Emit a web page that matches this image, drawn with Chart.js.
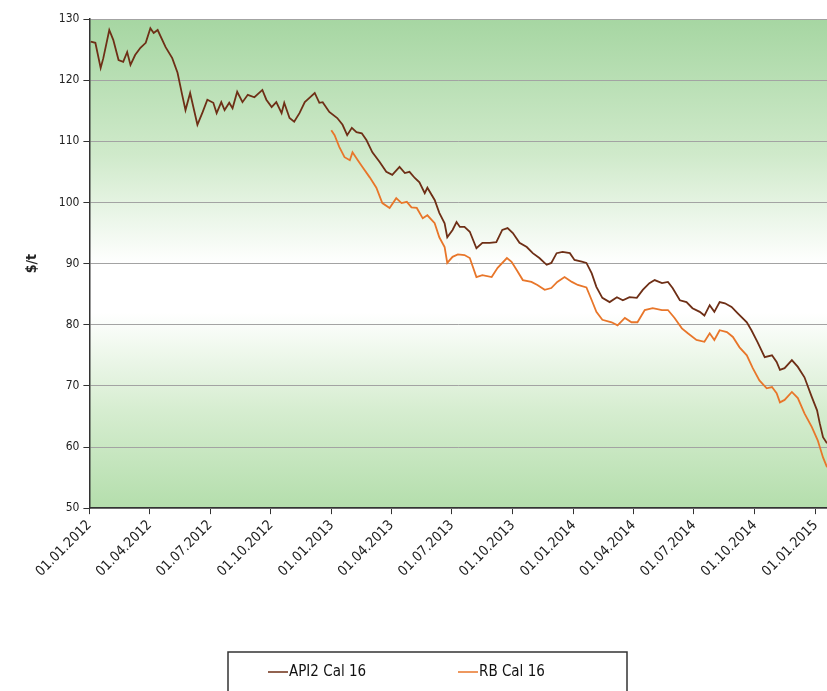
<!DOCTYPE html>
<html>
<head>
<meta charset="utf-8">
<script src="https://cdn.jsdelivr.net/npm/chart.js@4"></script>
<style>
  body { margin: 0; background: #fff; }
  #wrap { position: relative; width: 827px; height: 691px; }
</style>
</head>
<body>
<div id="wrap"><canvas id="coalChart"></canvas></div>
<script>
// days counted from 01.01.2012
const tickDays = [0, 91, 182, 274, 366, 456, 547, 639, 731, 821, 912, 1004, 1096];
const tickLabels = ['01.01.2012', '01.04.2012', '01.07.2012', '01.10.2012', '01.01.2013', '01.04.2013',
  '01.07.2013', '01.10.2013', '01.01.2014', '01.04.2014', '01.07.2014', '01.10.2014', '01.01.2015'];
const lastDay = 1113;

const api2Days = [2, 9, 17, 21, 30, 36, 44, 51, 57, 62, 69, 77, 85, 92, 97, 103, 115, 125, 133, 140,
  145, 152, 163, 171, 178, 187, 192, 199, 204, 211, 216, 223, 231, 239, 249, 261, 267, 275, 282, 290,
  294, 302, 309, 317, 325, 332, 340, 347, 352, 362, 374, 382, 389, 396, 403, 411, 418, 427, 438, 448,
  457, 468, 476, 483, 491, 498, 506, 510, 521, 528, 536, 540, 548, 554, 559, 566, 574, 584, 593, 604,
  614, 623, 631, 639, 649, 660, 669, 679, 690, 697, 705, 714, 725, 732, 743, 750, 758, 765, 774, 785,
  796, 805, 815, 826, 835, 845, 853, 864, 873, 880, 891, 901, 910, 921, 928, 936, 943, 951, 959, 969,
  978, 992, 999, 1008, 1019, 1030, 1037, 1042, 1049, 1060, 1069, 1079, 1090, 1098, 1102, 1107, 1113];
const api2Values = [126.3, 126.1, 122.0, 123.6, 128.2, 126.6, 123.3, 123.0, 124.6, 122.5, 124.1, 125.3,
  126.1, 128.5, 127.7, 128.2, 125.4, 123.6, 121.2, 117.6, 115.1, 117.9, 112.7, 114.8, 116.8, 116.3,
  114.6, 116.4, 115.1, 116.3, 115.4, 118.1, 116.4, 117.6, 117.2, 118.4, 116.8, 115.6, 116.4, 114.6,
  116.3, 113.8, 113.2, 114.6, 116.4, 117.1, 117.9, 116.3, 116.4, 114.8, 113.8, 112.7, 111.0, 112.2,
  111.5, 111.3, 110.2, 108.2, 106.6, 105.0, 104.5, 105.8, 104.8, 105.0, 104.0, 103.3, 101.5, 102.4,
  100.4, 98.3, 96.6, 94.3, 95.5, 96.8, 96.0, 96.0, 95.2, 92.5, 93.4, 93.4, 93.5, 95.5, 95.8, 95.0,
  93.4, 92.7, 91.7, 90.9, 89.8, 90.1, 91.7, 91.9, 91.7, 90.6, 90.3, 90.1, 88.4, 86.2, 84.4, 83.7,
  84.5, 84.0, 84.5, 84.4, 85.7, 86.8, 87.3, 86.8, 87.0, 86.0, 84.0, 83.7, 82.7, 82.1, 81.5, 83.2,
  82.1, 83.7, 83.5, 82.9, 81.9, 80.4, 79.1, 77.2, 74.7, 75.0, 73.9, 72.6, 72.9, 74.2, 73.1, 71.4,
  68.2, 66.0, 63.9, 61.6, 60.6];

const rbDays = [365, 370, 377, 385, 393, 397, 405, 412, 423, 433, 442, 453, 463, 471, 479, 486, 494,
  503, 510, 521, 528, 536, 540, 548, 556, 566, 574, 584, 593, 607, 616, 630, 637, 645, 654, 667, 676,
  687, 697, 706, 717, 728, 737, 750, 758, 765, 774, 788, 797, 808, 818, 827, 838, 850, 864, 873, 883,
  894, 903, 916, 928, 936, 943, 951, 962, 971, 981, 992, 1001, 1011, 1022, 1030, 1037, 1042, 1049,
  1060, 1069, 1079, 1090, 1099, 1107, 1113];
const rbValues = [111.8, 111.0, 109.1, 107.4, 106.9, 108.2, 106.9, 105.8, 104.1, 102.4, 99.9, 99.1,
  100.7, 99.9, 100.1, 99.2, 99.1, 97.4, 97.9, 96.6, 94.3, 92.7, 90.1, 91.1, 91.5, 91.4, 90.9, 87.8,
  88.1, 87.8, 89.3, 90.9, 90.3, 88.9, 87.3, 87.0, 86.5, 85.7, 86.0, 87.0, 87.8, 87.0, 86.5, 86.1,
  84.0, 82.1, 80.8, 80.4, 79.9, 81.1, 80.4, 80.4, 82.4, 82.7, 82.4, 82.4, 81.1, 79.4, 78.6, 77.5,
  77.2, 78.6, 77.5, 79.1, 78.8, 78.0, 76.3, 75.0, 72.9, 70.9, 69.6, 69.8, 68.8, 67.3, 67.7, 69.0,
  68.0, 65.5, 63.3, 61.1, 58.3, 56.7];

const seriesNames = ['API2 Cal 16', 'RB Cal 16'];
const FONT = "'DejaVu Sans Condensed', 'DejaVu Sans', sans-serif";

function toPoints(days, values) {
  return days.map((d, i) => ({ x: d, y: values[i] }));
}

// green-white-green wash behind the plot
const plotBackground = {
  id: 'plotBackground',
  beforeDraw(chart) {
    const { ctx, chartArea: a } = chart;
    const g = ctx.createLinearGradient(0, a.top, 0, a.bottom);
    g.addColorStop(0, '#a6d6a2');
    g.addColorStop(0.28, '#d0eacb');
    g.addColorStop(0.5, '#ffffff');
    g.addColorStop(0.6, '#ffffff');
    g.addColorStop(0.8, '#d6edd0');
    g.addColorStop(1, '#b4deac');
    ctx.save();
    ctx.fillStyle = g;
    ctx.fillRect(a.left, a.top, a.right - a.left, a.bottom - a.top);
    ctx.restore();
  }
};

// framed legend under the axis labels
const boxedLegend = {
  id: 'boxedLegend',
  afterDraw(chart) {
    const { ctx } = chart;
    const left = 228, top = 652, width = 399, height = 50;
    ctx.save();
    ctx.strokeStyle = '#333';
    ctx.lineWidth = 1.5;
    ctx.strokeRect(left, top, width, height);
    ctx.font = '15px ' + FONT;
    ctx.textBaseline = 'middle';
    ctx.fillStyle = '#111';
    const cy = top + 20;
    const starts = [268, 458];
    chart.data.datasets.forEach((ds, i) => {
      const x = starts[i];
      ctx.strokeStyle = ds.borderColor;
      ctx.lineWidth = 1.5;
      ctx.beginPath();
      ctx.moveTo(x, cy);
      ctx.lineTo(x + 20, cy);
      ctx.stroke();
      ctx.fillText(ds.label, x + 21, cy);
    });
    ctx.restore();
  }
};

new Chart(document.getElementById('coalChart'), {
  type: 'line',
  data: {
    datasets: [{
      label: seriesNames[0],
      data: toPoints(api2Days, api2Values),
      borderColor: '#6e2f16',
      borderWidth: 1.8,
      pointRadius: 0,
      tension: 0
    }, {
      label: seriesNames[1],
      data: toPoints(rbDays, rbValues),
      borderColor: '#e8762a',
      borderWidth: 1.8,
      pointRadius: 0,
      tension: 0
    }]
  },
  options: {
    responsive: true,
    maintainAspectRatio: false,
    animation: false,
    layout: { padding: { top: 19, right: 0, bottom: 108, left: 20 } },
    plugins: {
      legend: { display: false },
      tooltip: { enabled: false }
    },
    scales: {
      x: {
        type: 'linear',
        min: 0,
        max: lastDay,
        afterBuildTicks: (scale) => {
          scale.ticks = tickDays.map(v => ({ value: v }));
        },
        // the last label sits left of the edge, so the plot can run to the border
        afterFit: (scale) => {
          scale.paddingRight = 0;
        },
        ticks: {
          autoSkip: false,
          minRotation: 45,
          maxRotation: 45,
          color: '#222',
          font: { family: FONT, size: 14 },
          callback: (value) => tickLabels[tickDays.indexOf(value)]
        },
        grid: { drawOnChartArea: false, drawTicks: true, tickLength: 6, tickColor: '#333' },
        border: { color: '#333', width: 1.5 }
      },
      y: {
        min: 50,
        max: 130,
        ticks: {
          stepSize: 10,
          color: '#222',
          padding: 4,
          font: { family: FONT, size: 12 }
        },
        grid: { color: '#a3a3a3', lineWidth: 1, tickLength: 6, tickColor: '#333' },
        border: { color: '#333', width: 1.5 },
        title: {
          display: true,
          text: '$/t',
          color: '#222',
          font: { family: FONT, size: 14, weight: 'bold' },
          padding: { bottom: 14 }
        }
      }
    }
  },
  plugins: [plotBackground, boxedLegend]
});
</script>
</body>
</html>
